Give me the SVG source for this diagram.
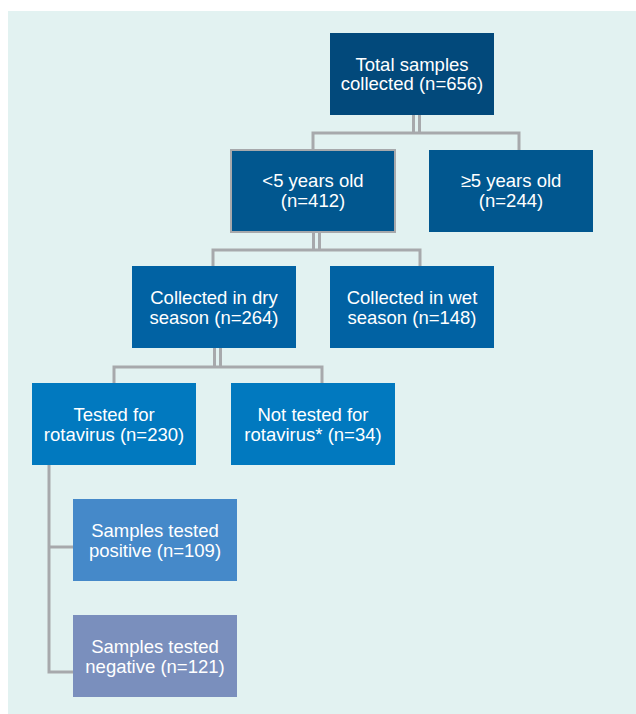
<svg xmlns="http://www.w3.org/2000/svg" width="636" height="714" viewBox="0 0 636 714">
<style>
.bg{fill:#e2f2f1}
.c{fill:none;stroke:#a7a9ac;stroke-width:3}
text{font-family:"Liberation Sans",Arial,sans-serif;font-size:18.5px;fill:#ffffff;text-anchor:middle}
</style>
<rect class="bg" x="8" y="11" width="628" height="703"/>
<g id="connectors">
<path class="c" d="M413.5 115V133M419.5 115V133M313 149V133H519V150"/>
<path class="c" d="M313.5 233V250M319.5 233V250M213 266V250H420V266"/>
<path class="c" d="M214.5 348V367M220.5 348V367M114 383V367H322V383"/>
<path class="c" d="M49 465V672H73M49 547H73"/>
</g>
<g id="n1"><rect x="330" y="33" width="164" height="82" fill="#02497b"/><text x="412" y="71">Total samples</text><text x="412" y="90">collected (n=656)</text></g>
<g id="n2"><rect x="231" y="150" width="164" height="82" fill="#01578f" stroke="#a7a9ac" stroke-width="2"/><text x="313" y="187">&lt;5 years old</text><text x="313" y="207">(n=412)</text></g>
<g id="n3"><rect x="429" y="150" width="164" height="82" fill="#01578f"/><text x="511" y="187">≥5 years old</text><text x="511" y="207">(n=244)</text></g>
<g id="n4"><rect x="132" y="266" width="164" height="82" fill="#0162a3"/><text x="214" y="303.5">Collected in dry</text><text x="214" y="323.5">season (n=264)</text></g>
<g id="n5"><rect x="330" y="266" width="164" height="82" fill="#0162a3"/><text x="412" y="303.5">Collected in wet</text><text x="412" y="323.5">season (n=148)</text></g>
<g id="n6"><rect x="32" y="383" width="164" height="82" fill="#0179bf"/><text x="114" y="420.5">Tested for</text><text x="114" y="440.5">rotavirus (n=230)</text></g>
<g id="n7"><rect x="231" y="383" width="164" height="82" fill="#0179bf"/><text x="313" y="420.5">Not tested for</text><text x="313" y="440.5">rotavirus* (n=34)</text></g>
<g id="n8"><rect x="73" y="499" width="164" height="82" fill="#4589c9"/><text x="155" y="536.5">Samples tested</text><text x="155" y="556.5">positive (n=109)</text></g>
<g id="n9"><rect x="73" y="615" width="164" height="82" fill="#7a8fbd"/><text x="155" y="652.5">Samples tested</text><text x="155" y="672.5">negative (n=121)</text></g>
</svg>
